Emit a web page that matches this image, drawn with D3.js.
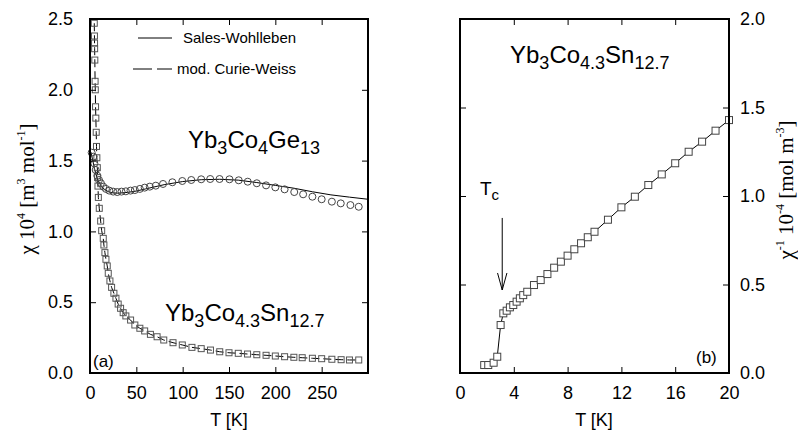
<!DOCTYPE html>
<html lang="en">
<head>
<meta charset="UTF-8">
<title>Susceptibility Yb3Co4Ge13 / Yb3Co4.3Sn12.7</title>
<style>
    body { margin: 0; background: #fff; }
    svg text { font-family: "Liberation Sans", Arial, sans-serif; fill: #000; }
    .serif { font-family: "Liberation Serif", "Times New Roman", serif !important; }
    .tick line { stroke: #000; stroke-width: 1; }
    .tick text { font-size: 18px; }
</style>
</head>
<body>
<div id="chart"></div>
<script src="https://d3js.org/d3.v7.min.js"></script>
<script>
// panel (a): Yb3Co4.3Sn12.7 (squares)
const snT = [4.6,4.8,4.9,5.0,5.2,5.5,5.7,6.0,6.3,6.7,7.0,7.4,7.9,8.2,8.6,9.0,10.0,11.5,12.6,14.3,15.0,16.1,17.2,18.6,19.7,21.5,23.3,25.8,28.0,30.4,33.0,35.8,38.7,43.8,48.4,53.8,59.0,65.2,72.4,79.6,89.6,99.6,110,120,130,140,150,160,170,180,190,200,210,220,229,240,250,261,271,280,290];
const snChi = [2.47,2.38,2.33,2.29,2.21,2.06,2.00,1.88,1.80,1.70,1.60,1.52,1.45,1.38,1.32,1.24,1.163,1.073,1.005,0.951,0.904,0.850,0.803,0.756,0.704,0.650,0.605,0.563,0.528,0.487,0.457,0.426,0.403,0.374,0.339,0.316,0.297,0.273,0.256,0.233,0.214,0.198,0.181,0.172,0.162,0.150,0.143,0.139,0.134,0.129,0.125,0.120,0.115,0.111,0.108,0.104,0.101,0.097,0.094,0.092,0.092];

// panel (a): Yb3Co4Ge13 (circles)
const geT = [1.8,3.6,4.7,6.1,7.9,9.7,11.8,14.3,17.2,20.8,25,29.4,34,38.7,43.7,48.4,53.8,59,64.5,71,78.8,88.9,99.6,109.3,120,129.7,139.8,150.5,160.5,170.2,180,190,200,210,220.4,230,240,250,261,270.6,281,290];
const geChi = [1.556,1.528,1.48,1.434,1.393,1.363,1.34,1.316,1.30,1.288,1.281,1.278,1.281,1.283,1.288,1.292,1.30,1.309,1.316,1.323,1.335,1.347,1.356,1.363,1.368,1.37,1.37,1.368,1.361,1.351,1.34,1.325,1.311,1.297,1.278,1.262,1.245,1.227,1.21,1.198,1.186,1.174];

// Sales-Wohlleben fit (solid line)
const swT = [1,3,5,8,12,16,20,25,30,40,50,60,80,100,120,140,160,180,200,220,240,260,280,300];
const swChi = [1.56,1.50,1.44,1.37,1.32,1.295,1.28,1.272,1.27,1.275,1.285,1.30,1.33,1.352,1.365,1.368,1.362,1.345,1.325,1.305,1.28,1.258,1.242,1.227];

// panel (b): inverse susceptibility
const bT = [1.8,2.1,2.5,2.77,3.02,3.22,3.47,3.71,3.96,4.21,4.45,4.7,5.0,5.5,6.0,6.5,7.0,7.5,8.0,8.5,9.0,9.5,10.0,11.0,12.0,13.0,14.0,15.0,16.0,17.0,18.0,19.0,20.0];
const bInv = [0.045,0.045,0.058,0.092,0.271,0.337,0.352,0.371,0.384,0.403,0.422,0.44,0.459,0.497,0.525,0.559,0.595,0.629,0.663,0.699,0.733,0.767,0.798,0.866,0.936,0.996,1.062,1.122,1.185,1.25,1.307,1.369,1.429];

const ticksA_x = [0,50,100,150,200,250];
const ticksA_y = [0,0.5,1.0,1.5,2.0,2.5];
const ticksB_x = [0,4,8,12,16,20];
const ticksB_y = [0,0.5,1.0,1.5,2.0];

const svg = d3.select("#chart").append("svg")
    .attr("width", 798).attr("height", 432);

// scales
const xA = d3.scaleLinear().domain([0, 300]).range([90, 368]);
const yA = d3.scaleLinear().domain([0, 2.5]).range([373, 19]);
const xB = d3.scaleLinear().domain([0, 20]).range([460, 729]);
const yB = d3.scaleLinear().domain([0, 2.0]).range([373, 19]);

const fmt1 = d3.format(".1f");

// axes with inward ticks
function axes(x, y, xt, yt, yLabelsRight) {
    const top = y.range()[1], bot = y.range()[0], l = x.range()[0], r = x.range()[1];
    svg.append("g").attr("transform", `translate(0,${bot})`)
        .call(d3.axisBottom(x).tickValues(xt).tickSizeInner(-6).tickSizeOuter(0).tickPadding(13))
        .call(g => g.select(".domain").remove());
    svg.append("g").attr("transform", `translate(0,${top})`)
        .call(d3.axisTop(x).tickValues(xt).tickSizeInner(-6).tickSizeOuter(0).tickFormat(""))
        .call(g => g.select(".domain").remove());
    svg.append("g").attr("transform", `translate(${l},0)`)
        .call(d3.axisLeft(y).tickValues(yt).tickSizeInner(-6).tickSizeOuter(0).tickPadding(17)
            .tickFormat(yLabelsRight ? "" : fmt1))
        .call(g => g.select(".domain").remove());
    svg.append("g").attr("transform", `translate(${r},0)`)
        .call(d3.axisRight(y).tickValues(yt).tickSizeInner(-6).tickSizeOuter(0).tickPadding(11)
            .tickFormat(yLabelsRight ? fmt1 : ""))
        .call(g => g.select(".domain").remove());
    svg.append("rect")
        .attr("x", l).attr("y", top).attr("width", r - l).attr("height", bot - top)
        .attr("fill", "none").attr("stroke", "#000").attr("stroke-width", 2);
}

// text with sub/superscripts: parts = [[string, shift]] shift in px (+ down)
function rich(x, y, parts, size, smallSize, cls) {
    const t = svg.append("text").attr("x", x).attr("y", y).style("font-size", size + "px");
    if (cls) t.attr("class", cls);
    let cur = 0;
    parts.forEach(([s, sh]) => {
        t.append("tspan").attr("dy", sh - cur)
            .style("font-size", (sh === 0 ? size : smallSize) + "px")
            .text(s);
        cur = sh;
    });
    return t;
}

// ---------- panel (a) ----------
const lineA = d3.line().x(d => xA(d[0])).y(d => yA(d[1]));

svg.append("path")
    .datum(swT.map((t, i) => [t, swChi[i]]))
    .attr("d", lineA).attr("fill", "none").attr("stroke", "#000").attr("stroke-width", 1);

svg.append("path")
    .datum(snT.map((t, i) => [t, snChi[i]]))
    .attr("d", lineA).attr("fill", "none").attr("stroke", "#000").attr("stroke-width", 1)
    .attr("stroke-dasharray", "8,4");

svg.append("g").selectAll("circle")
    .data(geT.map((t, i) => [t, geChi[i]]))
    .join("circle")
    .attr("cx", d => xA(d[0])).attr("cy", d => yA(d[1])).attr("r", 3.5)
    .attr("fill", "none").attr("stroke", "#444").attr("stroke-width", 1);

svg.append("g").selectAll("rect")
    .data(snT.map((t, i) => [t, snChi[i]]))
    .join("rect")
    .attr("x", d => xA(d[0]) - 3).attr("y", d => yA(d[1]) - 3)
    .attr("width", 6).attr("height", 6)
    .attr("fill", "none").attr("stroke", "#555").attr("stroke-width", 1);

axes(xA, yA, ticksA_x, ticksA_y, false);

// legend
svg.append("line").attr("x1", 138).attr("x2", 172).attr("y1", 38).attr("y2", 38)
    .attr("stroke", "#000").attr("stroke-width", 1);
svg.append("text").attr("x", 183).attr("y", 43).style("font-size", "15px").text("Sales-Wohlleben");
svg.append("line").attr("x1", 133).attr("x2", 172).attr("y1", 69).attr("y2", 69)
    .attr("stroke", "#000").attr("stroke-width", 1).attr("stroke-dasharray", "19,5");
svg.append("text").attr("x", 177).attr("y", 74).style("font-size", "15px").text("mod. Curie-Weiss");

rich(188, 148, [["Yb", 0], ["3", 6], ["Co", 0], ["4", 6], ["Ge", 0], ["13", 6]], 24, 18);
rich(165, 321, [["Yb", 0], ["3", 6], ["Co", 0], ["4.3", 6], ["Sn", 0], ["12.7", 6]], 24, 18);
svg.append("text").attr("x", 93).attr("y", 367).style("font-size", "17px").text("(a)");

svg.append("text").attr("x", 229).attr("y", 426).attr("text-anchor", "middle")
    .style("font-size", "18px").text("T [K]");

rich(0, 0, [["χ 10", 0], ["4", -9], [" [m", 0], ["3", -9], [" mol", 0], ["-1", -9], ["]", 0]], 21, 12, "serif")
    .attr("text-anchor", "middle")
    .attr("transform", "translate(34,189) rotate(-90)");

// ---------- panel (b) ----------
const lineB = d3.line().x(d => xB(d[0])).y(d => yB(d[1]));
const bData = bT.map((t, i) => [t, bInv[i]]);

svg.append("path").datum(bData).attr("d", lineB)
    .attr("fill", "none").attr("stroke", "#000").attr("stroke-width", 1);

svg.append("g").selectAll("rect")
    .data(bData)
    .join("rect")
    .attr("x", d => xB(d[0]) - 3.5).attr("y", d => yB(d[1]) - 3.5)
    .attr("width", 7).attr("height", 7)
    .attr("fill", "#fff").attr("stroke", "#444").attr("stroke-width", 1);

axes(xB, yB, ticksB_x, ticksB_y, true);

rich(510, 63, [["Yb", 0], ["3", 6], ["Co", 0], ["4.3", 6], ["Sn", 0], ["12.7", 6]], 24, 18);
rich(480, 195, [["T", 0], ["c", 5]], 19, 15);
svg.append("text").attr("x", 696).attr("y", 363).style("font-size", "17px").text("(b)");

// T_c arrow
const ax = xB(3.14), aTop = yB(0.876), aTip = yB(0.469);
svg.append("line").attr("x1", ax).attr("x2", ax).attr("y1", aTop).attr("y2", aTip)
    .attr("stroke", "#000").attr("stroke-width", 1);
svg.append("path")
    .attr("d", `M${ax - 4.7},${aTip - 17}L${ax},${aTip}L${ax + 4.7},${aTip - 17}`)
    .attr("fill", "none").attr("stroke", "#000").attr("stroke-width", 1);

svg.append("text").attr("x", 594).attr("y", 426).attr("text-anchor", "middle")
    .style("font-size", "18px").text("T [K]");

rich(0, 0, [["χ", 0], ["-1", -9], [" 10", 0], ["-4", -9], [" [mol m", 0], ["-3", -9], ["]", 0]], 21, 12, "serif")
    .attr("text-anchor", "middle")
    .attr("transform", "translate(793,190) rotate(-90)");
</script>
</body>
</html>
